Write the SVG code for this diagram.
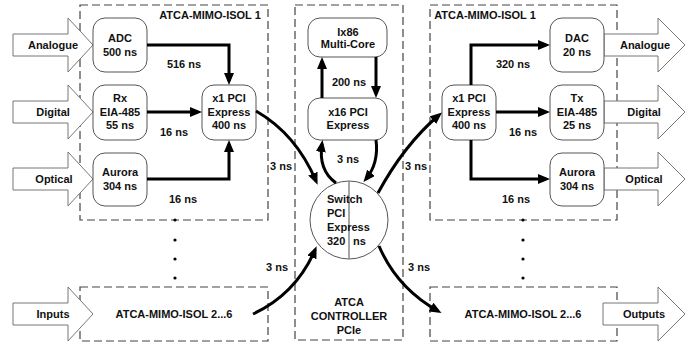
<svg xmlns="http://www.w3.org/2000/svg" width="696" height="347" viewBox="0 0 696 347">
  <defs>
    <marker id="head" viewBox="0 0 12 10" refX="8" refY="5" markerWidth="12" markerHeight="10" markerUnits="userSpaceOnUse" orient="auto">
      <path d="M0,0 L12,5 L0,10 z" fill="#000"/>
    </marker>
    <style>
      text { font-family: "Liberation Sans", Arial, sans-serif; font-weight: bold; font-size: 11px; fill: #111; text-anchor: middle; }
      .frame { fill: none; stroke: #444; stroke-width: 1.2; stroke-dasharray: 8 4; }
      .node { fill: #fff; stroke: #555; stroke-width: 1; }
      .port { fill: #fff; stroke: #777; stroke-width: 1; }
      .wire { fill: none; stroke: #000; stroke-width: 3; marker-end: url(#head); }
      .dot { fill: #000; }
    </style>
  </defs>
  <rect width="696" height="347" fill="#fff"/>

  <!-- card / controller frames -->
  <g id="frames">
    <rect class="frame" x="80" y="5" width="188" height="215"/>
    <rect class="frame" x="295" y="5" width="108" height="335"/>
    <rect class="frame" x="430" y="5" width="187" height="215"/>
    <rect class="frame" x="80" y="287" width="188" height="54"/>
    <rect class="frame" x="430" y="287" width="187" height="54"/>
    <text x="210" y="19">ATCA-MIMO-ISOL 1</text>
    <text x="485" y="19">ATCA-MIMO-ISOL 1</text>
    <text x="174" y="318">ATCA-MIMO-ISOL 2...6</text>
    <text x="523" y="318">ATCA-MIMO-ISOL 2...6</text>
    <text x="349" y="306">ATCA</text>
    <text x="349" y="320">CONTROLLER</text>
    <text x="349" y="334">PCIe</text>
  </g>

  <!-- continuation dots -->
  <g id="dots">
    <circle class="dot" cx="175" cy="220" r="1.6"/>
    <circle class="dot" cx="175" cy="240" r="1.6"/>
    <circle class="dot" cx="175" cy="259" r="1.6"/>
    <circle class="dot" cx="175" cy="278" r="1.6"/>
    <circle class="dot" cx="523" cy="220" r="1.6"/>
    <circle class="dot" cx="523" cy="240" r="1.6"/>
    <circle class="dot" cx="523" cy="259" r="1.6"/>
    <circle class="dot" cx="523" cy="278" r="1.6"/>
  </g>

  <!-- input block arrows -->
  <g id="in-analogue">
    <path class="port" d="M13,34 H68 V18 L93,45 L68,72 V56 H13 Z"/>
    <text x="53" y="49">Analogue</text>
  </g>
  <g id="in-digital">
    <path class="port" d="M13,101 H68 V85 L93,112 L68,139 V123 H13 Z"/>
    <text x="53" y="116">Digital</text>
  </g>
  <g id="in-optical">
    <path class="port" d="M13,168 H68 V152 L93,179 L68,206 V190 H13 Z"/>
    <text x="54" y="183">Optical</text>
  </g>
  <g id="in-inputs">
    <path class="port" d="M13,303 H68 V287 L93,314 L68,341 V325 H13 Z"/>
    <text x="53" y="318">Inputs</text>
  </g>

  <!-- output block arrows -->
  <g id="out-analogue">
    <path class="port" d="M604,34 H658 V18 L685,45 L658,72 V56 H604 Z"/>
    <text x="645" y="49">Analogue</text>
  </g>
  <g id="out-digital">
    <path class="port" d="M604,101 H658 V85 L685,112 L658,139 V123 H604 Z"/>
    <text x="644" y="116">Digital</text>
  </g>
  <g id="out-optical">
    <path class="port" d="M604,168 H658 V152 L685,179 L658,206 V190 H604 Z"/>
    <text x="644" y="183">Optical</text>
  </g>
  <g id="out-outputs">
    <path class="port" d="M603,303 H658 V287 L685,314 L658,341 V325 H603 Z"/>
    <text x="644" y="318">Outputs</text>
  </g>

  <!-- input card nodes -->
  <g id="adc">
    <rect class="node" x="93" y="18" width="54" height="54" rx="12"/>
    <text x="120" y="42">ADC</text>
    <text x="120" y="56">500 ns</text>
  </g>
  <g id="rx">
    <rect class="node" x="93" y="85" width="54" height="55" rx="12"/>
    <text x="120" y="102">Rx</text>
    <text x="120" y="116">EIA-485</text>
    <text x="120" y="129">55 ns</text>
  </g>
  <g id="aurora-in">
    <rect class="node" x="93" y="153" width="54" height="53" rx="12"/>
    <text x="120" y="176">Aurora</text>
    <text x="120" y="190">304 ns</text>
  </g>
  <g id="pcie-in">
    <rect class="node" x="202" y="85" width="54" height="55" rx="12"/>
    <text x="229" y="102">x1 PCI</text>
    <text x="229" y="116">Express</text>
    <text x="229" y="129">400 ns</text>
  </g>

  <!-- controller nodes -->
  <g id="cpu">
    <rect class="node" x="308" y="18" width="79" height="39" rx="12"/>
    <text x="348" y="36">Ix86</text>
    <text x="348" y="48">Multi-Core</text>
  </g>
  <g id="pcie-x16">
    <rect class="node" x="308" y="98" width="79" height="42" rx="12"/>
    <text x="348" y="116">x16 PCI</text>
    <text x="348" y="129">Express</text>
  </g>
  <g id="switch">
    <circle class="node" cx="349" cy="220" r="39"/>
    <line x1="349" y1="181" x2="349" y2="259" stroke="#888" stroke-width="1.5"/>
    <text x="327" y="203" style="text-anchor:start">Switch</text>
    <text x="327" y="217" style="text-anchor:start">PCI</text>
    <text x="327" y="231" style="text-anchor:start">Express</text>
    <text x="327" y="245" style="text-anchor:start">320</text>
    <text x="353" y="245" style="text-anchor:start">ns</text>
  </g>

  <!-- output card nodes -->
  <g id="pcie-out">
    <rect class="node" x="442" y="85" width="54" height="55" rx="12"/>
    <text x="469" y="102">x1 PCI</text>
    <text x="469" y="116">Express</text>
    <text x="469" y="129">400 ns</text>
  </g>
  <g id="dac">
    <rect class="node" x="550" y="18" width="54" height="54" rx="12"/>
    <text x="577" y="42">DAC</text>
    <text x="577" y="56">20 ns</text>
  </g>
  <g id="tx">
    <rect class="node" x="550" y="85" width="54" height="55" rx="12"/>
    <text x="577" y="102">Tx</text>
    <text x="577" y="116">EIA-485</text>
    <text x="577" y="129">25 ns</text>
  </g>
  <g id="aurora-out">
    <rect class="node" x="550" y="153" width="54" height="53" rx="12"/>
    <text x="577" y="176">Aurora</text>
    <text x="577" y="190">304 ns</text>
  </g>

  <!-- connectors -->
  <g id="connectors">
    <path class="wire" d="M147,45 H229 V81"/>
    <path class="wire" d="M147,112 H198"/>
    <path class="wire" d="M147,179 H229 V144"/>
    <path class="wire" d="M256,111 Q296,134 316,181"/>
    <path class="wire" d="M322,98 V61"/>
    <path class="wire" d="M376,57 V94"/>
    <path class="wire" d="M336,183 Q318,170 322,144"/>
    <path class="wire" d="M376,140 Q379,163 366,179"/>
    <path class="wire" d="M378,193 Q404,145 439,115"/>
    <path class="wire" d="M253,314 Q296,294 315,250"/>
    <path class="wire" d="M379,246 Q397,288 438,311"/>
    <path class="wire" d="M471,85 V45 H546"/>
    <path class="wire" d="M496,112 H546"/>
    <path class="wire" d="M471,140 V179 H546"/>
    <text x="184" y="68">516 ns</text>
    <text x="174" y="136">16 ns</text>
    <text x="183" y="203">16 ns</text>
    <text x="281" y="170">3 ns</text>
    <text x="349" y="86">200 ns</text>
    <text x="348" y="163">3 ns</text>
    <text x="416" y="170">3 ns</text>
    <text x="277" y="271">3 ns</text>
    <text x="419" y="271">3 ns</text>
    <text x="513" y="68">320 ns</text>
    <text x="523" y="136">16 ns</text>
    <text x="516" y="203">16 ns</text>
  </g>
</svg>
